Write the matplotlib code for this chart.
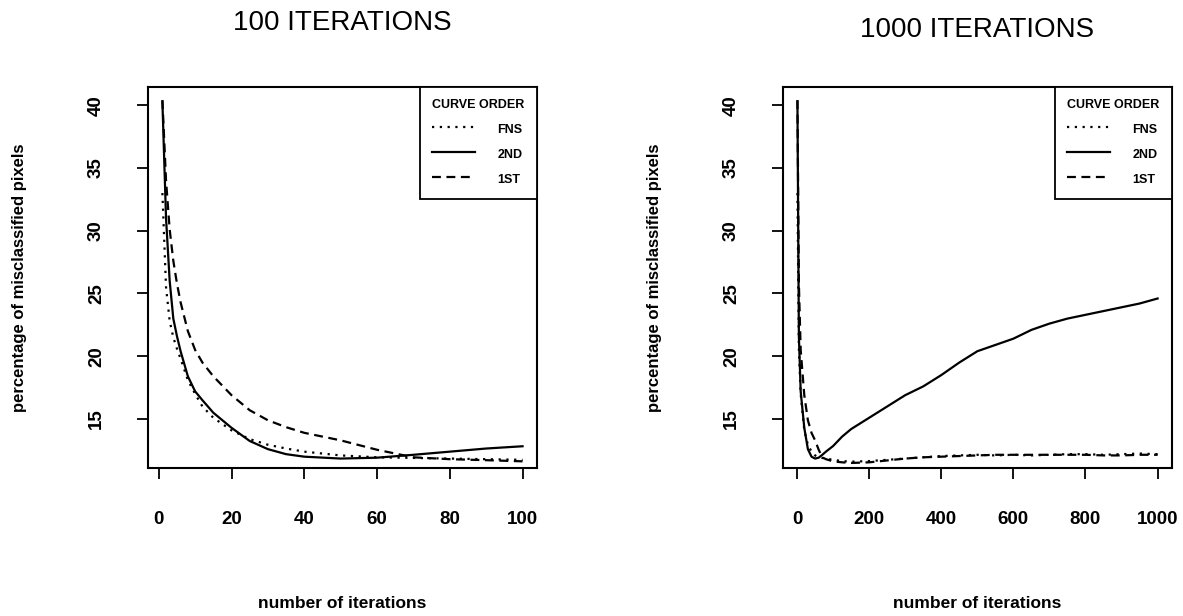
import matplotlib
matplotlib.use("Agg")
import matplotlib.pyplot as plt
from matplotlib.lines import Line2D

# misclassification (%) after each run length, three curve orders
iters_100 = [1, 2, 3, 4, 5, 6, 8, 10, 12, 15, 20, 25, 30, 35, 40, 50, 60, 70, 80, 90, 100]
fns_100 = [33.0, 25.5, 22.8, 21.5, 20.6, 19.8, 18.1, 17.0, 16.0, 15.1, 14.1, 13.4, 12.95,
           12.65, 12.4, 12.1, 11.95, 11.9, 11.85, 11.8, 11.75]
second_100 = [40.3, 31.0, 26.0, 23.0, 21.6, 20.4, 18.4, 17.2, 16.5, 15.5, 14.3, 13.25, 12.6,
              12.2, 12.0, 11.85, 11.92, 12.15, 12.4, 12.65, 12.83]
first_100 = [40.4, 34.0, 30.1, 27.6, 25.8, 24.3, 22.0, 20.5, 19.5, 18.4, 16.9, 15.7, 14.9,
             14.35, 13.9, 13.3, 12.55, 11.95, 11.8, 11.72, 11.63]

iters_1000 = [1, 5, 10, 20, 30, 40, 50, 60, 70, 80, 100, 125, 150, 200, 250, 300, 350, 400,
              450, 500, 550, 600, 650, 700, 750, 800, 850, 900, 950, 1000]
fns_1000 = [33.0, 20.6, 17.0, 14.1, 12.95, 12.4, 12.1, 11.95, 11.9, 11.85, 11.75, 11.65, 11.6,
            11.65, 11.75, 11.85, 11.95, 12.05, 12.1, 12.15, 12.1, 12.15, 12.1, 12.15, 12.2,
            12.2, 12.15, 12.2, 12.25, 12.2]
second_1000 = [40.3, 21.6, 17.2, 14.3, 12.6, 12.0, 11.85, 11.92, 12.15, 12.4, 12.85, 13.6, 14.2,
               15.1, 16.0, 16.9, 17.6, 18.5, 19.5, 20.4, 20.9, 21.4, 22.1, 22.6, 23.0, 23.3,
               23.6, 23.9, 24.2, 24.6]
first_1000 = [40.4, 25.8, 20.5, 16.9, 14.9, 13.9, 13.3, 12.55, 11.95, 11.8, 11.63, 11.55, 11.5,
              11.55, 11.7, 11.85, 11.95, 12.0, 12.05, 12.1, 12.15, 12.15, 12.15, 12.15, 12.15,
              12.15, 12.1, 12.1, 12.15, 12.15]

xticks_100 = [0, 20, 40, 60, 80, 100]
xticks_1000 = [0, 200, 400, 600, 800, 1000]
yticks = [15, 20, 25, 30, 35, 40]

DOTTED = (0, (1, 2.5))
DASHED = (0, (4, 2.5))
FONT = "Liberation Sans"


def plot_panel(ax, iters, fns, second, first, xticks, title, title_pad):
    ax.plot(iters, fns, color="black", lw=1.6, linestyle=DOTTED)
    ax.plot(iters, second, color="black", lw=1.6, linestyle="-")
    ax.plot(iters, first, color="black", lw=1.6, linestyle=DASHED)

    # R-style 4% padding around the data range
    span = iters[-1] - iters[0]
    ax.set_xlim(iters[0] - 0.04 * span, iters[-1] + 0.04 * span)
    ax.set_ylim(11.1, 41.45)

    ax.set_xticks(xticks)
    ax.set_yticks(yticks)
    ax.tick_params(direction="out", length=8, width=1.3, pad=23)
    for lab in ax.get_xticklabels():
        lab.set_fontfamily(FONT)
        lab.set_fontweight("bold")
        lab.set_fontsize(13.5)
    for lab in ax.get_yticklabels():
        lab.set_fontfamily(FONT)
        lab.set_fontweight("bold")
        lab.set_fontsize(13.5)
        lab.set_rotation(90)
        lab.set_verticalalignment("center")

    for spine in ax.spines.values():
        spine.set_linewidth(1.5)

    ax.set_title(title, fontfamily=FONT, fontsize=20, pad=title_pad)
    ax.set_xlabel("number of iterations", fontfamily=FONT, fontweight="bold",
                  fontsize=12.5, labelpad=49)
    ax.set_ylabel("percentage of misclassified pixels", fontfamily=FONT,
                  fontweight="bold", fontsize=12, labelpad=44)

    handles = [
        Line2D([], [], color="black", lw=1.6, linestyle=DOTTED),
        Line2D([], [], color="black", lw=1.6, linestyle="-"),
        Line2D([], [], color="black", lw=1.6, linestyle=DASHED),
    ]
    leg = ax.legend(handles, ["FNS", "2ND", "1ST"], title="CURVE ORDER", loc="upper right",
                    borderaxespad=0, fancybox=False, framealpha=1, edgecolor="black",
                    handlelength=3.4, handleheight=1.6, handletextpad=1.8,
                    labelspacing=0.72, borderpad=1.0, alignment="left",
                    prop={"family": FONT, "weight": "bold", "size": 9})
    leg.get_title().set_fontfamily(FONT)
    leg.get_title().set_fontweight("bold")
    leg.get_title().set_fontsize(9)
    leg.get_frame().set_linewidth(1.3)


if __name__ == "__main__":
    fig = plt.figure(figsize=(11.83, 6.16), dpi=100)
    ax1 = fig.add_axes([0.1251, 0.2403, 0.3288, 0.6185])
    ax2 = fig.add_axes([0.6619, 0.2403, 0.3288, 0.6185])

    plot_panel(ax1, iters_100, fns_100, second_100, first_100, xticks_100,
               "100 ITERATIONS", 41)
    plot_panel(ax2, iters_1000, fns_1000, second_1000, first_1000, xticks_1000,
               "1000 ITERATIONS", 36)

    fig.savefig("out.png", dpi=100, facecolor="white")
